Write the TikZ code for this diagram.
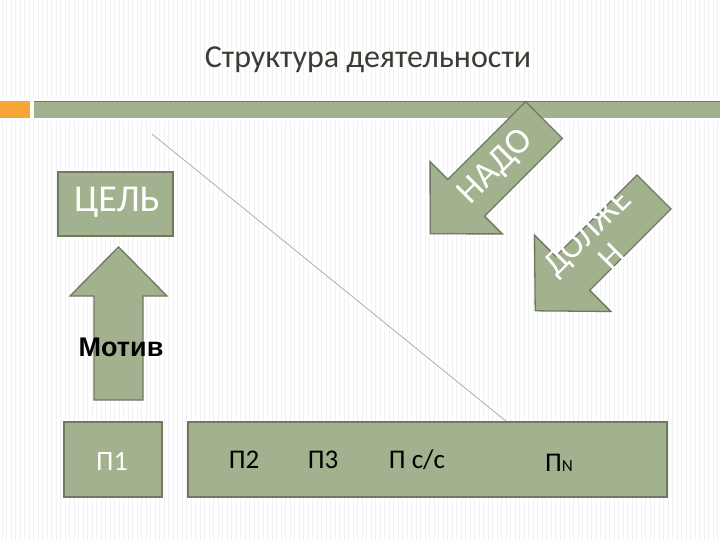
\documentclass[tikz,border=0pt]{standalone}
\usepackage{fontspec}
\setmainfont{Carlito}
\newfontfamily\arialf{Liberation Sans}
\begin{document}
\begin{tikzpicture}[x=1pt,y=-1pt]
\definecolor{grn}{RGB}{162,177,142}
\definecolor{edgec}{RGB}{112,120,100}
\definecolor{orng}{RGB}{247,164,56}
\definecolor{stripe}{RGB}{242,241,244}
\definecolor{titlec}{RGB}{60,60,52}
\tikzset{
  gbox/.style={fill=grn,draw=edgec,line width=1.3pt,inner sep=0pt},
  garrow/.style={fill=grn,draw=edgec,line width=1.3pt,line join=miter},
  wlabel/.style={text=white,inner sep=0pt},
  blabel/.style={text=black,inner sep=0pt,font=\fontsize{27}{29}\selectfont},
}
\useasboundingbox (0,0) rectangle (720,540);
\fill[white] (0,0) rectangle (720,540);
\foreach \i in {0,...,159} {\draw[stripe,line width=0.9pt] (2+4.5*\i,0) -- (2+4.5*\i,540);}
% title
\node[inner sep=0pt,text=titlec] (title) at (368,60) {\fontsize{32}{34}\selectfont Структура деятельности};
% top bar
\fill[white] (0,98) rectangle (720,121);
\fill[orng] (0,101) rectangle (30,118);
\fill[grn] (34,101) rectangle (720,118);
\draw[edgec,line width=1pt] (34,101.5) -- (720,101.5);
% diagonal line
\coordinate (ls) at (152,134);
\coordinate (le) at (507,422);
\draw[black!35,line width=0.7pt] (ls) -- (le);
% goal box
\node[gbox,minimum width=115pt,minimum height=64pt] (goal) at (115.5,204) {};
\node[wlabel,font=\fontsize{38}{40}\selectfont] (goaltxt) at (117,202) {ЦЕЛЬ};
% up arrow
\draw[garrow] (94,400) -- (143,400) -- (143,296) -- (167,296) -- (118.5,247) -- (70,296) -- (94,296) -- cycle;
\node[inner sep=0pt,font=\arialf\bfseries\fontsize{27}{29}\selectfont] (motiv) at (121,347) {Мотив};
% P1 box
\node[gbox,minimum width=98pt,minimum height=75pt] (p1) at (113,459.5) {};
\node[wlabel,font=\fontsize{28}{30}\selectfont] (p1txt) at (112,461) {П1};
% big box
\node[gbox,minimum width=479pt,minimum height=75pt] (pall) at (427.5,459.5) {};
\node[blabel] (p2) at (244,460) {П2};
\node[blabel] (p3) at (323,460) {П3};
\node[blabel] (psc) at (417,460) {П с/с};
\node[blabel,anchor=base] (pn) at (559,471) {П{\fontsize{17}{19}\selectfont N}};
% NADO arrow
\draw[garrow] (525.6,101.6) -- (562.4,138.4) -- (484.6,216.2) -- (502.3,233.9) -- (430.2,233.8) -- (430.1,161.7) -- (447.8,179.4) -- cycle;
\node[wlabel,rotate=45,font=\fontsize{36}{38}\selectfont] (nado) at (496,167) {НАДО};
% DOLZHEN arrow
\draw[garrow] (637,175) -- (671,209) -- (589.7,290.3) -- (610.9,311.5) -- (535.2,310.8) -- (534.5,235.1) -- (555.7,256.3) -- cycle;
\node[wlabel,rotate=45,align=center,font=\fontsize{34}{34}\selectfont] (dolzh) at (599,244) {ДОЛЖЕ\\Н};
\end{tikzpicture}
\end{document}
